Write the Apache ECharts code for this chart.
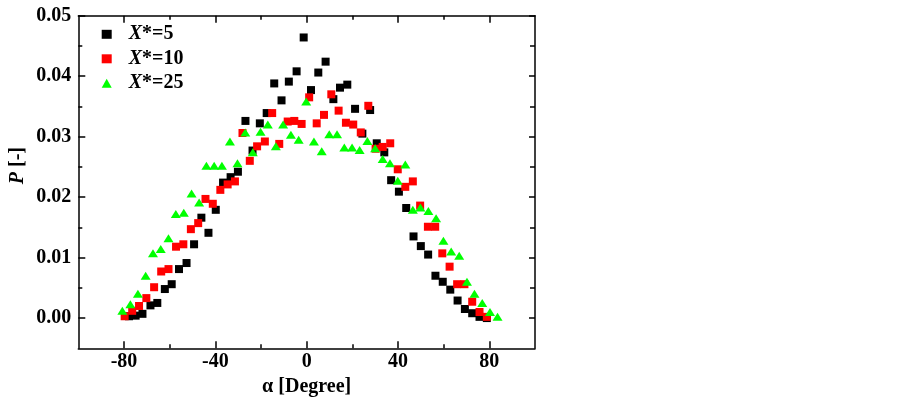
<!DOCTYPE html>
<html>
<head>
<meta charset="utf-8">
<script src="https://cdn.jsdelivr.net/npm/echarts@6/dist/echarts.min.js"></script>
<style>
html,body{margin:0;padding:0;background:#fff;}
#chart{width:900px;height:409px;}
</style>
</head>
<body>
<div id="chart"></div>
<script>
// ---- data ----
const seriesNames = ['X*=5', 'X*=10', 'X*=25'];

const alpha5 = [-77.8,-74.9,-71.9,-68.4,-65.4,-62.1,-59.1,-55.9,-52.6,-49.3,-46.1,-43.0,-39.8,-36.6,-33.3,-30.1,-26.8,-23.7,-20.5,-17.5,-14.2,-11.0,-7.8,-4.4,-1.3,1.9,5.1,8.3,11.7,14.6,17.8,21.2,24.4,27.8,30.7,34.0,37.0,40.4,43.6,46.8,50.0,53.2,56.4,59.6,62.9,66.1,69.3,72.5,75.7,78.9];
const p5 = [0.0003,0.0004,0.0007,0.0021,0.0025,0.0048,0.0056,0.0081,0.0091,0.0122,0.0166,0.0141,0.0179,0.0224,0.0233,0.0242,0.0326,0.0277,0.0322,0.0339,0.0388,0.0360,0.0391,0.0408,0.0464,0.0377,0.0406,0.0424,0.0362,0.0381,0.0386,0.0346,0.0305,0.0344,0.0289,0.0274,0.0228,0.0209,0.0182,0.0135,0.0119,0.0105,0.0070,0.0060,0.0047,0.0029,0.0015,0.0008,0.0002,0.0000];

const alpha10 = [-79.7,-76.4,-73.4,-70.2,-66.8,-63.7,-60.5,-57.2,-54.0,-50.7,-47.5,-44.3,-41.1,-37.8,-34.6,-31.4,-28.1,-24.9,-21.7,-18.3,-15.1,-12.0,-8.3,-5.4,-2.2,1.1,4.4,7.6,10.8,14.0,17.2,20.4,23.7,27.0,30.2,33.3,36.6,39.9,43.2,46.5,49.7,53.1,56.3,59.4,62.6,65.9,69.1,72.5,75.7,78.9];
const p10 = [0.0003,0.0012,0.0020,0.0033,0.0051,0.0077,0.0081,0.0118,0.0122,0.0147,0.0157,0.0197,0.0189,0.0212,0.0221,0.0226,0.0306,0.0260,0.0284,0.0292,0.0339,0.0288,0.0325,0.0326,0.0321,0.0365,0.0322,0.0336,0.0370,0.0343,0.0323,0.0320,0.0307,0.0351,0.0280,0.0283,0.0289,0.0246,0.0217,0.0226,0.0186,0.0151,0.0151,0.0107,0.0085,0.0056,0.0056,0.0027,0.0010,0.0002];

const alpha25 = [-80.7,-77.2,-73.9,-70.5,-67.3,-63.9,-60.5,-57.3,-53.8,-50.4,-47.1,-43.9,-40.5,-37.1,-33.6,-30.3,-26.9,-23.6,-20.2,-17.0,-13.5,-10.3,-6.9,-3.5,-0.2,3.2,6.6,9.9,13.3,16.5,19.9,23.2,26.6,30.0,33.3,36.5,39.9,43.2,46.5,49.8,53.3,56.7,59.9,63.3,66.8,70.2,73.5,76.9,80.3,83.6];
const p25 = [0.0012,0.0023,0.0040,0.0070,0.0107,0.0114,0.0132,0.0172,0.0174,0.0206,0.0191,0.0252,0.0252,0.0252,0.0292,0.0256,0.0307,0.0274,0.0308,0.0320,0.0284,0.0320,0.0303,0.0295,0.0358,0.0292,0.0276,0.0304,0.0304,0.0282,0.0282,0.0278,0.0293,0.0281,0.0263,0.0256,0.0227,0.0254,0.0179,0.0183,0.0177,0.0165,0.0128,0.0110,0.0103,0.0060,0.0040,0.0025,0.0010,0.0002];

const xMajorTicks = [-80, -40, 0, 40, 80];
const xMinorTicks = [-60, -20, 20, 60];
const yMajorTicks = [0, 0.01, 0.02, 0.03, 0.04, 0.05];
const yMinorTicks = [0.005, 0.015, 0.025, 0.035, 0.045];

// ---- chart ----
const FONT = '"Liberation Serif", "Times New Roman", serif';
const zip = (xs, ys) => xs.map((x, i) => [x, ys[i]]);

function xAx(pos, ticks, len, withLabels, withLine) {
  return {
    type: 'value', position: pos, min: -100, max: 100,
    splitLine: { show: false },
    axisLine: { show: withLine, onZero: false, lineStyle: { color: '#000', width: 1.5 } },
    axisTick: { show: true, inside: true, length: len, customValues: ticks, lineStyle: { color: '#000', width: 1.5 } },
    axisLabel: withLabels ? {
      show: true, customValues: ticks, margin: 4,
      fontFamily: FONT, fontWeight: 'bold', fontSize: 20, color: '#000',
      formatter: v => String(v)
    } : { show: false },
    name: withLabels ? 'α [Degree]' : '',
    nameLocation: 'middle', nameGap: 28,
    nameTextStyle: { fontFamily: FONT, fontWeight: 'bold', fontSize: 20, color: '#000' }
  };
}
function yAx(pos, ticks, len, withLabels, withLine) {
  return {
    type: 'value', position: pos, min: -0.005, max: 0.05,
    splitLine: { show: false },
    axisLine: { show: withLine, onZero: false, lineStyle: { color: '#000', width: 1.5 } },
    axisTick: { show: true, inside: true, length: len, customValues: ticks, lineStyle: { color: '#000', width: 1.5 } },
    axisLabel: withLabels ? {
      show: true, customValues: ticks, margin: 7,
      fontFamily: FONT, fontWeight: 'bold', fontSize: 20, color: '#000',
      formatter: v => v.toFixed(2)
    } : { show: false }
  };
}

const chart = echarts.init(document.getElementById('chart'), null, { renderer: 'canvas' });
chart.setOption({
  backgroundColor: '#fff',
  animation: false,
  grid: { left: 78.3, top: 15.7, width: 456.7, height: 332.6, containLabel: false },
  xAxis: [
    xAx('bottom', xMajorTicks, 7, true, true),
    xAx('bottom', xMinorTicks, 4, false, false),
    xAx('top', xMajorTicks, 7, false, true),
    xAx('top', xMinorTicks, 4, false, false)
  ],
  yAxis: [
    yAx('left', yMajorTicks, 7, true, true),
    yAx('left', yMinorTicks, 4, false, false),
    yAx('right', yMajorTicks, 6, false, true),
    yAx('right', yMinorTicks, 5, false, false)
  ],
  legend: {
    orient: 'vertical', left: 101.7, top: 24.3, padding: 0,
    itemWidth: 10, itemHeight: 9, itemGap: 4.5,
    data: [
      { name: seriesNames[0], icon: 'rect' },
      { name: seriesNames[1], icon: 'rect' },
      { name: seriesNames[2], icon: 'triangle' }
    ],
    formatter: name => '{i|X}{n|' + name.slice(1) + '}',
    textStyle: {
      padding: [0, 0, 0, 12],
      rich: {
        i: { fontFamily: FONT, fontWeight: 'bold', fontStyle: 'italic', fontSize: 20, color: '#000', lineHeight: 20 },
        n: { fontFamily: FONT, fontWeight: 'bold', fontSize: 20, color: '#000', lineHeight: 20 }
      }
    }
  },
  graphic: [{
    type: 'text', left: 8, top: 147, rotation: Math.PI / 2,
    style: {
      text: '{i|P} [-]',
      rich: {
        i: { fontFamily: FONT, fontWeight: 'bold', fontStyle: 'italic', fontSize: 20, fill: '#000' }
      },
      fontFamily: FONT, fontWeight: 'bold', fontSize: 20, fill: '#000'
    }
  }],
  series: [
    { name: seriesNames[0], type: 'scatter', symbol: 'rect', symbolSize: 8,
      itemStyle: { color: '#000000', opacity: 1 }, data: zip(alpha5, p5) },
    { name: seriesNames[1], type: 'scatter', symbol: 'rect', symbolSize: 8,
      itemStyle: { color: '#ff0000', opacity: 1 }, data: zip(alpha10, p10) },
    { name: seriesNames[2], type: 'scatter', symbol: 'triangle', symbolSize: [10, 8],
      itemStyle: { color: '#00ff00', opacity: 1 }, data: zip(alpha25, p25) }
  ]
});
</script>
</body>
</html>
